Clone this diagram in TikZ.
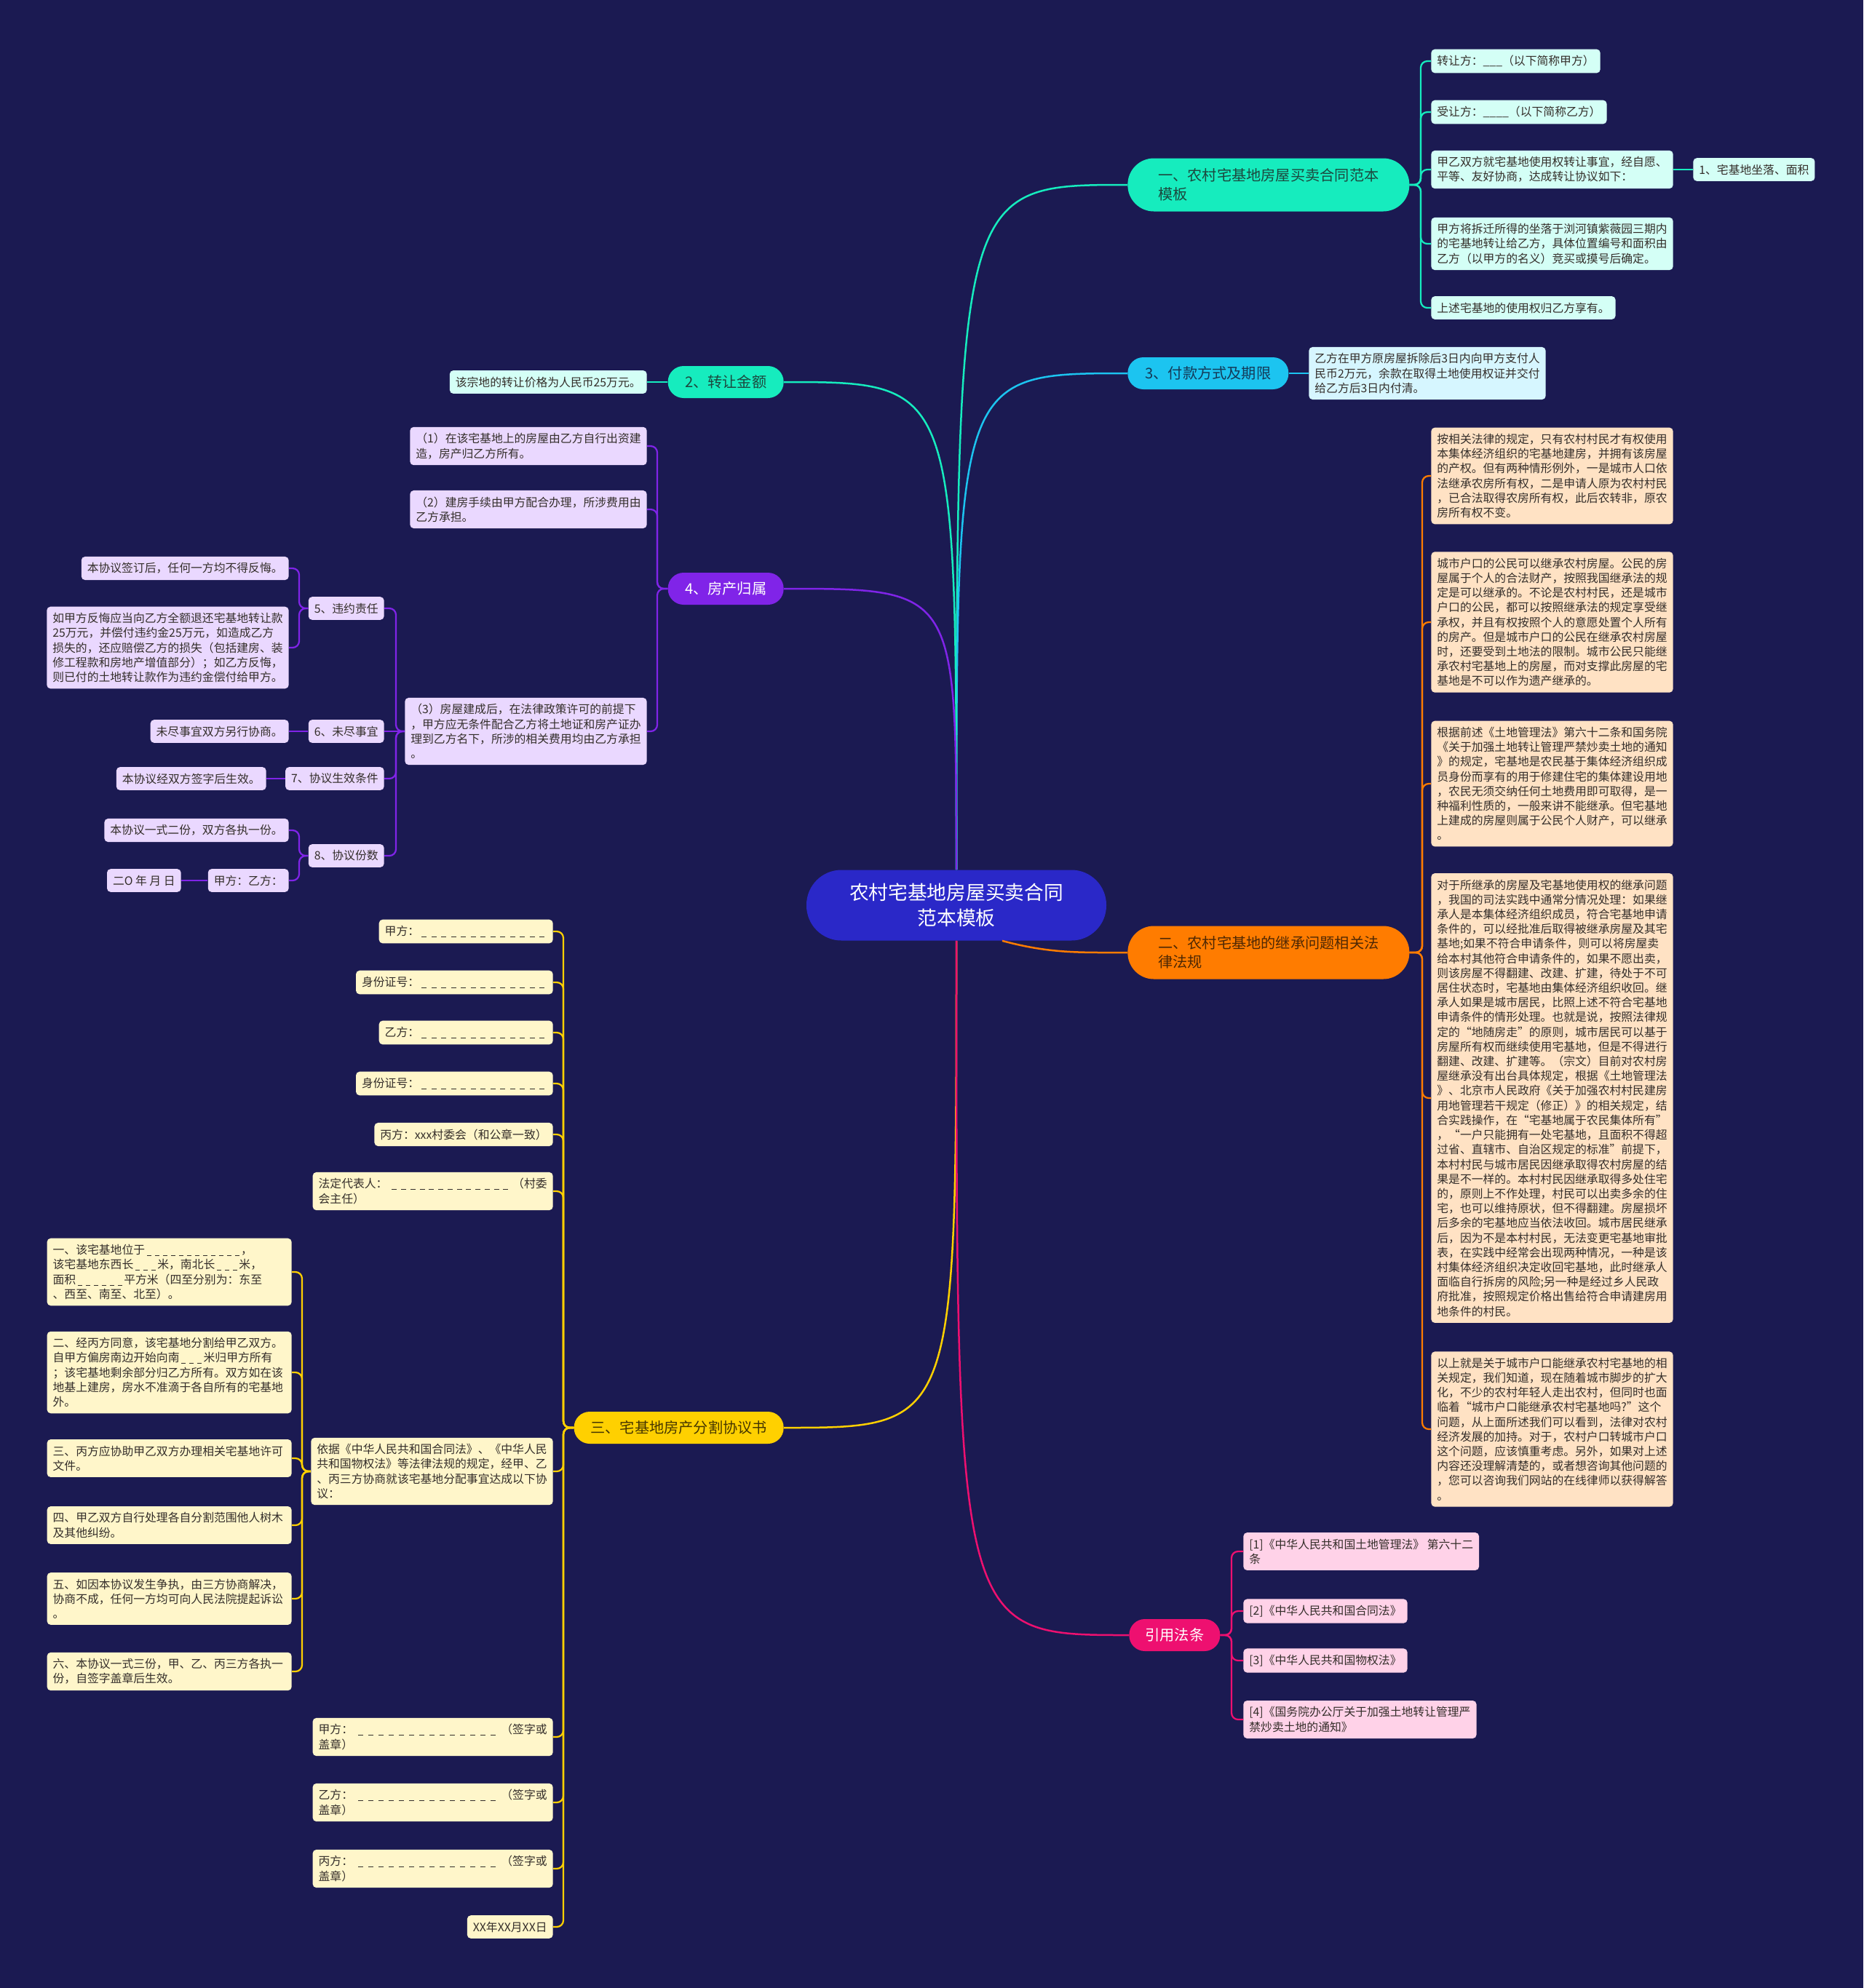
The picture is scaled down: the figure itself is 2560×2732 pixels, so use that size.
\documentclass[tikz,border=0pt]{standalone}
\usepackage{fontspec}
\setmainfont{Noto Sans CJK SC}
\usepackage{tikz}
\definecolor{NightBlue}{RGB}{27,26,82}
\definecolor{RootBlue}{RGB}{42,40,200}
\definecolor{MintLine}{RGB}{22,236,190}
\definecolor{MintLeaf}{RGB}{212,255,246}
\definecolor{MintInk}{RGB}{28,72,62}
\definecolor{SkyLine}{RGB}{28,196,240}
\definecolor{SkyLeaf}{RGB}{214,246,255}
\definecolor{SkyInk}{RGB}{20,58,88}
\definecolor{OrangeLine}{RGB}{255,124,0}
\definecolor{OrangeLeaf}{RGB}{255,226,196}
\definecolor{OrangeInk}{RGB}{78,40,4}
\definecolor{VioletLine}{RGB}{128,36,232}
\definecolor{VioletLeaf}{RGB}{234,216,255}
\definecolor{GoldLine}{RGB}{255,208,0}
\definecolor{GoldLeaf}{RGB}{255,246,202}
\definecolor{GoldInk}{RGB}{70,55,0}
\definecolor{PinkLine}{RGB}{238,16,112}
\definecolor{PinkLeaf}{RGB}{255,210,232}
\definecolor{LeafInk}{RGB}{52,46,42}
\newcommand\blankrow[2][2.7mm]{\foreach \k in {1,...,#2}{\makebox[#1]{\rule[-1.3pt]{\dimexpr #1*52/100\relax}{0.45pt}}}}
\newcommand\blankfill[1]{\foreach \k in {1,...,#1}{\hfill\rule[-1.3pt]{1.4mm}{0.45pt}}\hfill}
\tikzset{
  root/.style={fill=RootBlue,text=white,align=center,rounded corners=9.6mm,minimum width=82.4mm,minimum height=19.4mm,font=\fontsize{15.2}{19.8}\selectfont},
  pill/.style={rounded corners=4.3mm,minimum height=8.8mm,align=left,font=\fontsize{11.5}{14.8}\selectfont},
  widepill/.style={pill,rounded corners=7.2mm,minimum height=14.6mm,minimum width=77.4mm},
  leaf/.style={rounded corners=1mm,inner xsep=1.6mm,inner ysep=1.7mm,align=left,text=LeafInk,font=\fontsize{9}{11.5}\selectfont},
  trunk/.style={line width=0.5mm},
  link/.style={line width=0.45mm,rounded corners=1.8mm},
}
\begin{document}
\begin{tikzpicture}[x=0.2mm,y=-0.2mm,
    mleaf/.style={leaf,fill=MintLeaf},
    sleaf/.style={leaf,fill=SkyLeaf},
    oleaf/.style={leaf,fill=OrangeLeaf},
    vleaf/.style={leaf,fill=VioletLeaf},
    gleaf/.style={leaf,fill=GoldLeaf},
    pleaf/.style={leaf,fill=PinkLeaf}]
  \fill[NightBlue] (0,0) rectangle (2560,2732);
  \useasboundingbox (0,0) rectangle (2560,2732);

  \node[root] (root) at (1314,1244) {农村宅基地房屋买卖合同\\范本模板};

  % right side
  \node[widepill,fill=MintLine,text=MintInk,anchor=west] (b1) at (1549,254) {一、农村宅基地房屋买卖合同范本\\模板};
  \node[mleaf,anchor=west] (t1) at (1966,84) {转让方：\_\_\_（以下简称甲方）};
  \node[mleaf,anchor=west] (t2) at (1966,154) {受让方：\_\_\_\_（以下简称乙方）};
  \node[mleaf,anchor=west] (t3) at (1966,233) {甲乙双方就宅基地使用权转让事宜，经自愿、\\平等、友好协商，达成转让协议如下：};
  \node[mleaf,anchor=west] (t3a) at (2326,233) {1、宅基地坐落、面积};
  \node[mleaf,anchor=west] (t4) at (1966,335) {甲方将拆迁所得的坐落于浏河镇紫薇园三期内\\的宅基地转让给乙方，具体位置编号和面积由\\乙方（以甲方的名义）竞买或摸号后确定。};
  \node[mleaf,anchor=west] (t5) at (1966,423) {上述宅基地的使用权归乙方享有。};

  \node[pill,fill=SkyLine,text=SkyInk,minimum width=44.2mm,anchor=west] (b3) at (1549,513) {3、付款方式及期限};
  \node[sleaf,anchor=west] (s1) at (1798,513) {乙方在甲方原房屋拆除后3日内向甲方支付人\\民币2万元，余款在取得土地使用权证并交付\\给乙方后3日内付清。};

  \node[widepill,fill=OrangeLine,text=OrangeInk,anchor=west] (b5) at (1549,1309) {二、农村宅基地的继承问题相关法\\律法规};
  \node[oleaf,anchor=west] (o1) at (1966,654) {按相关法律的规定，只有农村村民才有权使用\\本集体经济组织的宅基地建房，并拥有该房屋\\的产权。但有两种情形例外，一是城市人口依\\法继承农房所有权，二是申请人原为农村村民\\，已合法取得农房所有权，此后农转非，原农\\房所有权不变。};
  \node[oleaf,anchor=west] (o2) at (1966,855) {城市户口的公民可以继承农村房屋。公民的房\\屋属于个人的合法财产，按照我国继承法的规\\定是可以继承的。不论是农村村民，还是城市\\户口的公民，都可以按照继承法的规定享受继\\承权，并且有权按照个人的意愿处置个人所有\\的房产。但是城市户口的公民在继承农村房屋\\时，还要受到土地法的限制。城市公民只能继\\承农村宅基地上的房屋，而对支撑此房屋的宅\\基地是不可以作为遗产继承的。};
  \node[oleaf,anchor=west] (o3) at (1966,1077) {根据前述《土地管理法》第六十二条和国务院\\《关于加强土地转让管理严禁炒卖土地的通知\\》的规定，宅基地是农民基于集体经济组织成\\员身份而享有的用于修建住宅的集体建设用地\\，农民无须交纳任何土地费用即可取得，是一\\种福利性质的，一般来讲不能继承。但宅基地\\上建成的房屋则属于公民个人财产，可以继承\\。};
  \node[oleaf,anchor=west] (o4) at (1966,1509) {对于所继承的房屋及宅基地使用权的继承问题\\，我国的司法实践中通常分情况处理：如果继\\承人是本集体经济组织成员，符合宅基地申请\\条件的，可以经批准后取得被继承房屋及其宅\\基地;如果不符合申请条件，则可以将房屋卖\\给本村其他符合申请条件的，如果不愿出卖，\\则该房屋不得翻建、改建、扩建，待处于不可\\居住状态时，宅基地由集体经济组织收回。继\\承人如果是城市居民，比照上述不符合宅基地\\申请条件的情形处理。也就是说，按照法律规\\定的“地随房走”的原则，城市居民可以基于\\房屋所有权而继续使用宅基地，但是不得进行\\翻建、改建、扩建等。（宗文）目前对农村房\\屋继承没有出台具体规定，根据《土地管理法\\》、北京市人民政府《关于加强农村村民建房\\用地管理若干规定（修正）》的相关规定，结\\合实践操作，在“宅基地属于农民集体所有”\\，“一户只能拥有一处宅基地，且面积不得超\\过省、直辖市、自治区规定的标准”前提下，\\本村村民与城市居民因继承取得农村房屋的结\\果是不一样的。本村村民因继承取得多处住宅\\的，原则上不作处理，村民可以出卖多余的住\\宅，也可以维持原状，但不得翻建。房屋损坏\\后多余的宅基地应当依法收回。城市居民继承\\后，因为不是本村村民，无法变更宅基地审批\\表，在实践中经常会出现两种情况，一种是该\\村集体经济组织决定收回宅基地，此时继承人\\面临自行拆房的风险;另一种是经过乡人民政\\府批准，按照规定价格出售给符合申请建房用\\地条件的村民。};
  \node[oleaf,anchor=west] (o5) at (1966,1964) {以上就是关于城市户口能继承农村宅基地的相\\关规定，我们知道，现在随着城市脚步的扩大\\化，不少的农村年轻人走出农村，但同时也面\\临着“城市户口能继承农村宅基地吗?”这个\\问题，从上面所述我们可以看到，法律对农村\\经济发展的加持。对于，农村户口转城市户口\\这个问题，应该慎重考虑。另外，如果对上述\\内容还没理解清楚的，或者想咨询其他问题的\\，您可以咨询我们网站的在线律师以获得解答\\。};

  \node[pill,fill=PinkLine,text=white,minimum width=25mm,anchor=west] (b6) at (1551,2247) {引用法条};
  \node[pleaf,anchor=west] (p1) at (1708,2132) {[1]《中华人民共和国土地管理法》 第六十二\\条};
  \node[pleaf,anchor=west] (p2) at (1708,2214) {[2]《中华人民共和国合同法》};
  \node[pleaf,anchor=west] (p3) at (1708,2282) {[3]《中华人民共和国物权法》};
  \node[pleaf,anchor=west] (p4) at (1708,2363) {[4]《国务院办公厅关于加强土地转让管理严\\禁炒卖土地的通知》};

  % left side
  \node[pill,fill=MintLine,text=MintInk,minimum width=31.8mm,anchor=east] (b2) at (1077,525) {2、转让金额};
  \node[mleaf,anchor=east] (m1) at (889,525) {该宗地的转让价格为人民币25万元。};

  \node[pill,fill=VioletLine,text=white,minimum width=31.8mm,anchor=east] (b4) at (1077,809) {4、房产归属};
  \node[vleaf,anchor=east] (v1) at (889,613) {（1）在该宅基地上的房屋由乙方自行出资建\\造，房产归乙方所有。};
  \node[vleaf,anchor=east] (v2) at (889,700) {（2）建房手续由甲方配合办理，所涉费用由\\乙方承担。};
  \node[vleaf,anchor=east] (v3) at (889,1005) {（3）房屋建成后，在法律政策许可的前提下\\，甲方应无条件配合乙方将土地证和房产证办\\理到乙方名下，所涉的相关费用均由乙方承担\\。};
  \node[vleaf,anchor=east] (v5) at (528,836) {5、违约责任};
  \node[vleaf,anchor=east] (v5a) at (397,781) {本协议签订后，任何一方均不得反悔。};
  \node[vleaf,anchor=east] (v5b) at (397,890) {如甲方反悔应当向乙方全额退还宅基地转让款\\25万元，并偿付违约金25万元，如造成乙方\\损失的，还应赔偿乙方的损失（包括建房、装\\修工程款和房地产增值部分）；如乙方反悔，\\则已付的土地转让款作为违约金偿付给甲方。};
  \node[vleaf,anchor=east] (v6) at (528,1005) {6、未尽事宜};
  \node[vleaf,anchor=east] (v6a) at (397,1005) {未尽事宜双方另行协商。};
  \node[vleaf,anchor=east] (v7) at (528,1070) {7、协议生效条件};
  \node[vleaf,anchor=east] (v7a) at (366,1070) {本协议经双方签字后生效。};
  \node[vleaf,anchor=east] (v8) at (528,1176) {8、协议份数};
  \node[vleaf,anchor=east] (v8a) at (397,1141) {本协议一式二份，双方各执一份。};
  \node[vleaf,anchor=east] (v8b) at (397,1210) {甲方：乙方：};
  \node[vleaf,anchor=east] (v8c) at (249,1210) {二O 年 月 日};

  \node[pill,fill=GoldLine,text=GoldInk,minimum width=57.6mm,anchor=east] (b7) at (1077,1962) {三、宅基地房产分割协议书};
  \node[gleaf,anchor=east] (y1) at (760,1280) {甲方：\blankrow{13}};
  \node[gleaf,anchor=east] (y2) at (760,1350) {身份证号：\blankrow{13}};
  \node[gleaf,anchor=east] (y3) at (760,1419) {乙方：\blankrow{13}};
  \node[gleaf,anchor=east] (y4) at (760,1489) {身份证号：\blankrow{13}};
  \node[gleaf,anchor=east] (y5) at (760,1559) {丙方：xxx村委会（和公章一致）};
  \node[gleaf,anchor=east,text width=62.8mm] (y6) at (760,1637) {法定代表人：\blankfill{13}（村委\\会主任）};
  \node[gleaf,anchor=east] (y7) at (760,2022) {依据《中华人民共和国合同法》、《中华人民\\共和国物权法》等法律法规的规定，经甲、乙\\、丙三方协商就该宅基地分配事宜达成以下协\\议：};
  \node[gleaf,anchor=east,text width=64mm] (y7a) at (401,1748) {一、该宅基地位于\blankrow[2.2mm]{12}，\\该宅基地东西长\blankrow[2.2mm]{3}米，南北长\blankrow[2.2mm]{3}米，\\面积\blankrow[2.2mm]{6}平方米（四至分别为：东至\\、西至、南至、北至）。};
  \node[gleaf,anchor=east,text width=64mm] (y7b) at (401,1886) {二、经丙方同意，该宅基地分割给甲乙双方。\\自甲方偏房南边开始向南\blankrow[2.2mm]{3}米归甲方所有\\；该宅基地剩余部分归乙方所有。双方如在该\\地基上建房，房水不准滴于各自所有的宅基地\\外。};
  \node[gleaf,anchor=east,text width=64mm] (y7c) at (401,2004) {三、丙方应协助甲乙双方办理相关宅基地许可\\文件。};
  \node[gleaf,anchor=east,text width=64mm] (y7d) at (401,2096) {四、甲乙双方自行处理各自分割范围他人树木\\及其他纠纷。};
  \node[gleaf,anchor=east,text width=64mm] (y7e) at (401,2197) {五、如因本协议发生争执，由三方协商解决，\\协商不成，任何一方均可向人民法院提起诉讼\\。};
  \node[gleaf,anchor=east,text width=64mm] (y7f) at (401,2297) {六、本协议一式三份，甲、乙、丙三方各执一\\份，自签字盖章后生效。};
  \node[gleaf,anchor=east,text width=62.8mm] (y8) at (760,2387) {甲方：\blankfill{14}（签字或\\盖章）};
  \node[gleaf,anchor=east,text width=62.8mm] (y9) at (760,2477) {乙方：\blankfill{14}（签字或\\盖章）};
  \node[gleaf,anchor=east,text width=62.8mm] (y10) at (760,2568) {丙方：\blankfill{14}（签字或\\盖章）};
  \node[gleaf,anchor=east] (y11) at (760,2648) {XX年XX月XX日};

  % trunks from the centre
  \foreach \b/\c in {b1/MintLine,b3/SkyLine}
    \draw[trunk,\c] (root.north) .. controls (root.north |- \b.west) .. (\b.west);
  \foreach \b/\c in {b2/MintLine,b4/VioletLine}
    \draw[trunk,\c] (root.north) .. controls (root.north |- \b.east) .. (\b.east);
  \draw[trunk,GoldLine] (root.south) .. controls (root.south |- b7.east) .. (b7.east);
  \draw[trunk,PinkLine] (root.south) .. controls (root.south |- b6.west) .. (b6.west);
  \draw[trunk,OrangeLine] ([xshift=12.6mm]root.south) to[out=-15,in=180] (b5.west);

  % branch links
  \coordinate (busT) at (1952,0);
  \coordinate (busO) at (1954,0);
  \coordinate (busP) at (1692,0);
  \coordinate (busV) at (903,0);
  \coordinate (busW) at (544,0);
  \coordinate (busX) at (411,0);
  \coordinate (busY) at (774,0);
  \coordinate (busZ) at (415,0);
  \foreach \n in {t1,t2,t3,t4,t5}
    \draw[link,MintLine] (b1.east) -- (b1.east -| busT) |- (\n.west);
  \draw[link,MintLine] (t3.east) -- (t3a.west);
  \draw[link,SkyLine] (b3.east) -- (s1.west);
  \foreach \n in {o1,o2,o3,o4,o5}
    \draw[link,OrangeLine] (b5.east) -- (b5.east -| busO) |- (\n.west);
  \foreach \n in {p1,p2,p3,p4}
    \draw[link,PinkLine] (b6.east) -- (b6.east -| busP) |- (\n.west);
  \draw[link,MintLine] (b2.west) -- (m1.east);
  \foreach \n in {v1,v2,v3}
    \draw[link,VioletLine] (b4.west) -- (b4.west -| busV) |- (\n.east);
  \foreach \n in {v5,v7,v8}
    \draw[link,VioletLine] (v3.west) -- (v3.west -| busW) |- (\n.east);
  \draw[link,VioletLine] (v3.west) -- (v6.east);
  \foreach \n in {v5a,v5b}
    \draw[link,VioletLine] (v5.west) -- (v5.west -| busX) |- (\n.east);
  \foreach \n in {v8a,v8b}
    \draw[link,VioletLine] (v8.west) -- (v8.west -| busX) |- (\n.east);
  \draw[link,VioletLine] (v6.west) -- (v6a.east);
  \draw[link,VioletLine] (v7.west) -- (v7a.east);
  \draw[link,VioletLine] (v8b.west) -- (v8c.east);
  \foreach \n in {y1,y2,y3,y4,y5,y6,y7,y8,y9,y10,y11}
    \draw[link,GoldLine] (b7.west) -- (b7.west -| busY) |- (\n.east);
  \foreach \n in {y7a,y7b,y7c,y7d,y7e,y7f}
    \draw[link,GoldLine] (y7.west) -- (y7.west -| busZ) |- (\n.east);
\end{tikzpicture}
\end{document}
